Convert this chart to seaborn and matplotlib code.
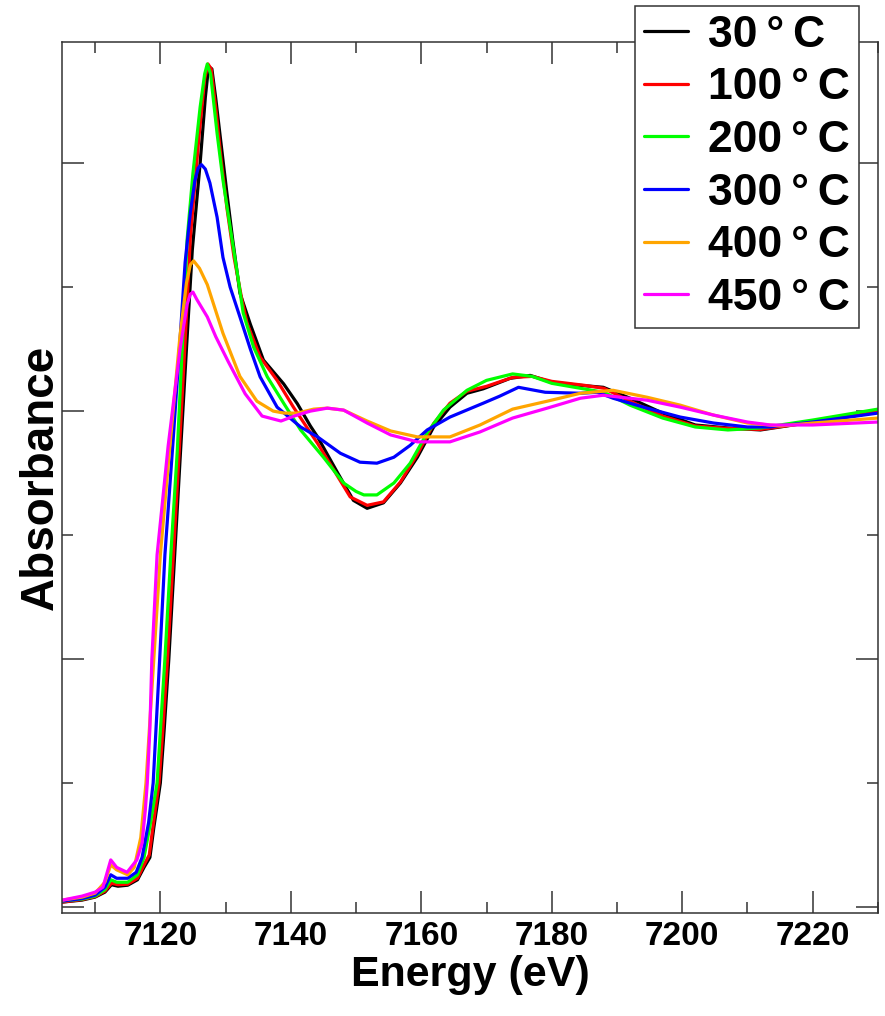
import numpy as np
import pandas as pd
import matplotlib
matplotlib.use("Agg")
import matplotlib.pyplot as plt
from matplotlib.ticker import MultipleLocator, NullFormatter
import seaborn as sns

# ---------------- data ----------------
labels = ["30\u2009°\u2009C", "100\u2009°\u2009C", "200\u2009°\u2009C",
          "300\u2009°\u2009C", "400\u2009°\u2009C", "450\u2009°\u2009C"]
colors = ["#000000", "#ff0000", "#00ff00", "#0000ff", "#ffa500", "#ff00ff"]

e_30 = [7105, 7108, 7110, 7111.5, 7112.5, 7113.5, 7115, 7116.5, 7117.5, 7118.4, 7119.0,
        7120.0, 7120.6, 7121.3, 7122.2, 7123.1, 7124.0, 7124.9, 7126.1, 7126.9, 7127.4,
        7127.9, 7128.5, 7129.3, 7130.2, 7131.1, 7132.2, 7133.8, 7135.8, 7138.9, 7141.0,
        7143.0, 7144.1, 7147.2, 7149.6, 7151.7, 7154.2, 7156.8, 7159.4, 7161.9, 7164.4,
        7167.0, 7169.5, 7173.6, 7176.7, 7180.0, 7184.4, 7187.9, 7192.0, 7197.0, 7202.0,
        7207.0, 7212.0, 7220.0, 7230.0]
a_30 = [0.010, 0.014, 0.020, 0.030, 0.045, 0.042, 0.044, 0.055, 0.080, 0.100, 0.160,
        0.250, 0.360, 0.500, 0.710, 0.920, 1.125, 1.325, 1.500, 1.633, 1.695,
        1.690, 1.630, 1.540, 1.440, 1.345, 1.238, 1.175, 1.103, 1.055, 1.015,
        0.970, 0.948, 0.875, 0.820, 0.804, 0.815, 0.855, 0.907, 0.968, 1.008,
        1.036, 1.045, 1.066, 1.072, 1.058, 1.052, 1.048, 1.026, 0.996, 0.972,
        0.966, 0.962, 0.978, 0.998]

e_100 = [7105, 7108, 7110, 7111.5, 7112.5, 7113.5, 7115, 7116.5, 7117.5, 7118.3, 7118.9,
         7119.8, 7120.4, 7121.1, 7122.0, 7122.9, 7123.8, 7124.6, 7125.9, 7126.8, 7127.3,
         7127.8, 7128.5, 7129.3, 7130.2, 7131.3, 7132.5, 7133.3, 7135.3, 7137.9, 7140.4,
         7144.1, 7149.1, 7151.7, 7154.2, 7156.8, 7159.4, 7161.9, 7164.4, 7167.0, 7170.0,
         7174.0, 7177.0, 7180.0, 7185.0, 7188.0, 7192.0, 7197.0, 7202.0, 7207.0, 7212.0,
         7220.0, 7230.0]
a_100 = [0.010, 0.015, 0.021, 0.032, 0.048, 0.045, 0.046, 0.058, 0.085, 0.105, 0.165,
         0.250, 0.360, 0.500, 0.710, 0.920, 1.140, 1.350, 1.550, 1.670, 1.700,
         1.690, 1.610, 1.510, 1.410, 1.310, 1.225, 1.177, 1.109, 1.062, 1.008,
         0.935, 0.827, 0.810, 0.817, 0.857, 0.913, 0.975, 1.016, 1.040, 1.050,
         1.068, 1.070, 1.060, 1.052, 1.046, 1.020, 0.990, 0.970, 0.965, 0.963,
         0.978, 0.998]

e_200 = [7105, 7108, 7110, 7111.5, 7112.4, 7113.3, 7115, 7116.5, 7117.5, 7118.5, 7119.5,
         7120.7, 7121.6, 7122.6, 7123.4, 7124.1, 7125.0, 7126.1, 7126.8, 7127.2, 7127.7,
         7128.7, 7129.6, 7130.7, 7131.8, 7132.7, 7134.3, 7136.4, 7138.9, 7141.5, 7145.0,
         7148.1, 7150.0, 7151.2, 7153.2, 7155.8, 7158.3, 7160.9, 7163.4, 7167.0, 7170.0,
         7174.0, 7177.0, 7180.0, 7184.4, 7188.0, 7192.0, 7197.0, 7202.0, 7207.0, 7212.0,
         7220.0, 7230.0]
a_200 = [0.012, 0.016, 0.022, 0.035, 0.055, 0.050, 0.050, 0.065, 0.100, 0.170, 0.250,
         0.500, 0.710, 0.920, 1.140, 1.345, 1.480, 1.613, 1.680, 1.700, 1.680,
         1.560, 1.466, 1.371, 1.278, 1.198, 1.129, 1.069, 1.016, 0.962, 0.907,
         0.855, 0.838, 0.831, 0.831, 0.855, 0.895, 0.956, 1.002, 1.042, 1.062,
         1.075, 1.070, 1.056, 1.046, 1.038, 1.012, 0.986, 0.968, 0.962, 0.966,
         0.982, 1.004]

e_300 = [7105, 7108, 7110, 7111.5, 7112.4, 7113.3, 7115, 7116.3, 7117.2, 7118.2, 7118.9,
         7119.9, 7120.7, 7121.9, 7123.0, 7123.8, 7124.6, 7125.3, 7125.8, 7126.3, 7126.9,
         7127.6, 7128.7, 7129.6, 7130.7, 7132.2, 7133.8, 7135.3, 7137.9, 7141.5, 7144.1,
         7147.6, 7150.6, 7153.2, 7155.8, 7158.3, 7160.9, 7164.4, 7169.5, 7172.0, 7174.9,
         7179.0, 7184.4, 7187.0, 7189.4, 7194.6, 7199.7, 7204.8, 7210.0, 7213.5, 7220.0,
         7230.0]
a_300 = [0.012, 0.017, 0.024, 0.040, 0.065, 0.058, 0.058, 0.070, 0.100, 0.170, 0.250,
         0.500, 0.710, 0.930, 1.140, 1.300, 1.400, 1.465, 1.490, 1.497, 1.488,
         1.460, 1.391, 1.310, 1.250, 1.190, 1.125, 1.069, 1.008, 0.968, 0.948,
         0.915, 0.897, 0.895, 0.907, 0.931, 0.962, 0.988, 1.016, 1.030, 1.048,
         1.038, 1.036, 1.038, 1.026, 1.006, 0.988, 0.976, 0.968, 0.968, 0.978,
         0.996]

e_400 = [7105, 7108, 7110, 7111.5, 7112.4, 7113.3, 7115, 7116.0, 7117.0, 7117.8, 7119.0,
         7120.0, 7121.4, 7123.0, 7124.0, 7124.6, 7125.1, 7126.0, 7127.2, 7128.3, 7129.6,
         7131.0, 7132.2, 7134.8, 7137.3, 7139.0, 7141.0, 7143.5, 7145.6, 7148.1, 7151.7,
         7155.3, 7159.4, 7164.4, 7169.0, 7174.0, 7179.3, 7184.4, 7189.4, 7194.6, 7199.7,
         7204.8, 7210.0, 7215.0, 7220.0, 7230.0]
a_400 = [0.014, 0.020, 0.028, 0.050, 0.085, 0.075, 0.065, 0.080, 0.140, 0.250, 0.500,
         0.710, 0.920, 1.150, 1.258, 1.295, 1.303, 1.288, 1.255, 1.210, 1.157,
         1.110, 1.070, 1.020, 1.000, 0.996, 0.996, 1.004, 1.006, 1.002, 0.980,
         0.960, 0.948, 0.948, 0.972, 1.004, 1.020, 1.036, 1.042, 1.028, 1.012,
         0.992, 0.976, 0.970, 0.976, 0.986]

e_450 = [7105, 7108, 7110, 7111.2, 7112.4, 7113.3, 7114.9, 7116.4, 7117.2, 7117.7, 7118.0,
         7118.4, 7118.7, 7119.5, 7121.2, 7123.0, 7124.1, 7124.6, 7125.0, 7125.6, 7127.2,
         7128.5, 7130.4, 7133.0, 7135.6, 7138.5, 7140.5, 7143.0, 7145.6, 7148.1, 7151.7,
         7155.3, 7159.4, 7164.4, 7169.0, 7174.0, 7179.3, 7184.4, 7187.9, 7194.6, 7199.7,
         7204.8, 7210.0, 7213.5, 7220.0, 7230.0]
a_450 = [0.014, 0.022, 0.030, 0.040, 0.095, 0.080, 0.070, 0.095, 0.129, 0.196, 0.250,
         0.360, 0.500, 0.710, 0.930, 1.123, 1.215, 1.236, 1.240, 1.225, 1.190,
         1.150, 1.100, 1.035, 0.990, 0.980, 0.990, 1.000, 1.006, 1.002, 0.976,
         0.952, 0.938, 0.938, 0.958, 0.986, 1.006, 1.026, 1.032, 1.022, 1.008,
         0.992, 0.978, 0.972, 0.972, 0.978]

energies = [e_30, e_100, e_200, e_300, e_400, e_450]
absorb = [a_30, a_100, a_200, a_300, a_400, a_450]

x_ticks = [7120, 7140, 7160, 7180, 7200, 7220]

# ---------------- build table ----------------
frames = []
for lab, e, a in zip(labels, energies, absorb):
    frames.append(pd.DataFrame({"Energy": e, "Absorbance": a, "Temperature": lab}))
df = pd.concat(frames, ignore_index=True)

# ---------------- style ----------------
sns.set_theme(style="ticks")
from matplotlib import font_manager
names = {f.name for f in font_manager.fontManager.ttflist}
fam = "Liberation Sans" if "Liberation Sans" in names else "DejaVu Sans"
narrow = "Liberation Sans Narrow" if "Liberation Sans Narrow" in names else fam
plt.rcParams["font.family"] = [fam, "DejaVu Sans"]
plt.rcParams["font.weight"] = "bold"
for k in ["text.color", "axes.labelcolor", "xtick.color", "ytick.color",
          "xtick.labelcolor", "ytick.labelcolor"]:
    plt.rcParams[k] = "black"

fig = plt.figure(figsize=(8.85, 10.16), dpi=100)
ax = fig.add_axes([0.0706, 0.1014, 0.9214, 0.8576])

sns.lineplot(data=df, x="Energy", y="Absorbance", hue="Temperature",
             hue_order=labels, palette=colors, linewidth=2.3,
             estimator=None, sort=False, ax=ax, legend=False)

ax.set_xlim(7105, 7230)
ax.set_ylim(-0.012, 1.745)
ax.xaxis.set_minor_locator(MultipleLocator(10))
ax.yaxis.set_major_locator(MultipleLocator(0.5))
ax.yaxis.set_minor_locator(MultipleLocator(0.25))
ax.set_xticks(x_ticks)
ax.set_xticklabels([str(t) for t in x_ticks],
                   fontdict={"family": [narrow, fam], "size": 24, "weight": "bold"})
ax.yaxis.set_major_formatter(NullFormatter())
ax.tick_params(which="both", direction="in", top=True, right=True,
               color="#333333", width=1.1)
ax.tick_params(which="major", length=16, pad=6)
ax.tick_params(which="minor", length=8)
for s in ax.spines.values():
    s.set_color("#333333")
    s.set_linewidth(1.1)

ax.set_xlabel("Energy (eV)", fontsize=31, fontweight="bold", labelpad=2, color="black")
ax.set_ylabel("Absorbance", fontsize=33, fontweight="bold", labelpad=-6, color="black")

handles = [plt.Line2D([], [], color=c, linewidth=2.3) for c in colors]
leg = fig.legend(handles, labels, loc="upper left",
                 bbox_to_anchor=(635 / 885, 1 - 6 / 1016),
                 prop={"family": [fam, "DejaVu Sans"], "weight": "bold", "size": 32},
                 frameon=True, fancybox=False, framealpha=1, edgecolor="#333333",
                 handlelength=1.0, handletextpad=0.45, labelspacing=0.26,
                 borderpad=0.2, borderaxespad=0, labelcolor="black")
leg.get_frame().set_linewidth(1.1)

fig.savefig("out.png", dpi=100, facecolor="white")
